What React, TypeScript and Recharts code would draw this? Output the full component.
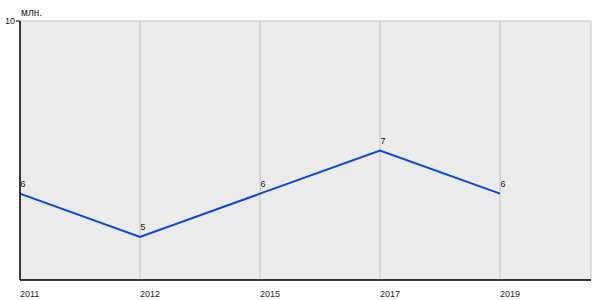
import React from 'react';
import { LineChart, Line, XAxis, YAxis, CartesianGrid, LabelList } from 'recharts';

const years = ['2011', '2012', '2015', '2017', '2019'];
const values = [6, 5, 6, 7, 6];
const yTicks = [10];

const data = years.map((year, i) => ({ year, value: values[i] }));

const FONT = '"Liberation Sans", Arial, sans-serif';

const UnitLabel = () => (
  <text x={21} y={16} fontSize={10} fontFamily={FONT} fill="#222">
    млн.
  </text>
);

const XTick = (props: any) => {
  const { x, y, payload } = props;
  return (
    <text x={x} y={y + 9} fontSize={9} fontFamily={FONT} fill="#222" textAnchor="start">
      {payload.value}
    </text>
  );
};

const PointLabel = (props: any) => {
  const { x, y, value } = props;
  return (
    <text x={x + 3} y={y - 7} fontSize={9} fontFamily={FONT} fill="#222" textAnchor="middle">
      {value}
    </text>
  );
};

export default function App() {
  return (
    <div style={{ position: 'absolute', left: 0, top: 0, width: 600, height: 300, background: '#fff' }}>
      <LineChart
        width={600}
        height={300}
        data={data}
        margin={{ top: 21, right: 9, bottom: 0, left: 0 }}
      >
        <CartesianGrid fill="#ebebeb" stroke="#c4c4c4" strokeDasharray="" />
        <XAxis
          dataKey="year"
          padding={{ left: 0, right: 91 }}
          tickLine={false}
          axisLine={{ stroke: '#000', strokeWidth: 1.5 }}
          height={20}
          tick={<XTick />}
        />
        <YAxis
          width={20}
          domain={[4, 10]}
          ticks={yTicks}
          tickSize={4}
          tickMargin={1}
          tickLine={{ stroke: '#000' }}
          axisLine={{ stroke: '#000', strokeWidth: 1.5 }}
          tick={{ fontSize: 9, fontFamily: FONT, fill: '#222' }}
          label={{ content: () => <UnitLabel /> }}
        />
        <Line
          type="linear"
          dataKey="value"
          stroke="#0548e0"
          strokeWidth={2}
          dot={false}
          isAnimationActive={false}
        >
          <LabelList dataKey="value" content={<PointLabel />} />
        </Line>
      </LineChart>
    </div>
  );
}
